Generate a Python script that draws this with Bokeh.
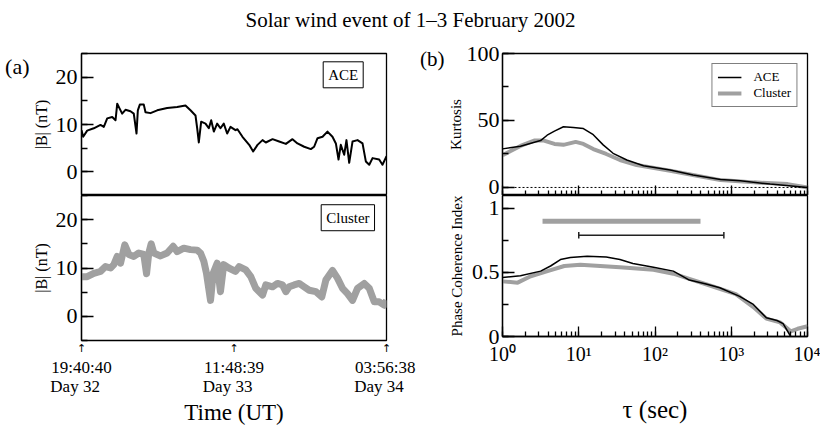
from bokeh.plotting import figure
from bokeh.layouts import column, row
from bokeh.models import (Range1d, SingleIntervalTicker, FixedTicker, LogTicker,
                          Label, Span, LinearAxis)
from bokeh.embed import file_html
from bokeh.resources import INLINE

FONT = "Liberation Serif"
GRAY = "#a0a0a0"

TITLE = "Solar wind event of 1\u20133 February 2002"

# ---- panel (a): |B| time series, hours since 19:40:40 Day 32 ----
ace_t = [0.0, 0.18, 0.60, 1.30, 2.01, 2.36, 2.72, 3.25, 3.60, 3.78, 4.05, 4.30, 4.65,
         5.18, 5.53, 5.82, 5.96, 6.17, 6.59, 6.77, 7.30, 8.01, 9.06, 10.12, 11.00,
         11.53, 12.06, 12.24, 12.41, 12.66, 13.12, 13.47, 13.72, 14.00, 14.35, 14.70,
         15.05, 15.41, 15.76, 16.29, 16.50, 17.03, 17.74, 18.16, 18.62, 19.15, 19.50,
         20.21, 20.91, 21.62, 22.32, 22.85, 23.56, 24.26, 24.61, 24.97, 25.50, 26.02,
         26.55, 26.91, 27.19, 27.43, 27.79, 28.03, 28.32, 28.67, 29.20, 29.73, 30.08,
         30.44, 30.79, 31.49, 31.84, 32.27]
ace_b = [8.8, 7.4, 8.7, 9.2, 9.9, 9.5, 11.3, 11.6, 10.9, 14.4, 13.3, 12.3, 13.1,
         12.8, 12.3, 8.1, 13.0, 14.2, 14.2, 12.6, 12.4, 13.0, 13.5, 13.7, 14.0,
         13.0, 11.9, 9.2, 6.2, 10.6, 10.2, 9.2, 10.9, 8.5, 10.2, 9.2,
         10.2, 8.1, 9.5, 8.8, 9.0, 7.4, 5.7, 4.3, 5.7, 6.7, 6.2,
         6.9, 6.4, 5.9, 6.9, 6.0, 5.3, 4.8, 5.3, 7.1, 7.4, 8.5,
         7.4, 6.0, 2.6, 5.7, 3.6, 6.7, 1.9, 6.4, 6.7, 6.0, 2.2,
         1.5, 2.9, 2.6, 1.5, 3.3]

cl_t = [0.0, 0.60, 1.30, 2.01, 2.54, 3.07, 3.42, 3.78, 4.13, 4.58, 5.01, 5.53, 6.06,
        6.59, 6.88, 7.12, 7.37, 7.65, 8.36, 9.06, 9.70, 10.12, 10.82, 11.53, 12.24,
        12.59, 12.94, 13.22, 13.65, 13.93, 14.35, 14.70, 15.05, 15.58, 16.29, 16.68,
        17.38, 17.91, 18.44, 19.15, 19.50, 20.21, 20.73, 21.26, 21.62, 21.97, 22.50,
        23.03, 23.56, 24.09, 24.79, 25.42, 25.85, 26.55, 27.08, 27.61, 28.14, 28.67,
        29.20, 29.91, 30.44, 30.97, 31.49, 32.02, 32.27]
cl_b = [8.2, 8.2, 8.9, 9.3, 10.3, 10.0, 10.7, 12.4, 11.0, 14.8, 12.8, 12.4, 13.1,
        12.8, 8.8, 13.1, 15.0, 13.1, 12.5, 13.1, 14.5, 13.4, 14.1, 13.8, 13.7,
        13.1, 11.4, 8.9, 3.3, 8.9, 11.0, 5.1, 10.7, 10.0, 9.3, 10.3,
        9.6, 8.2, 5.8, 4.4, 6.5, 6.1, 6.8, 6.5, 5.1, 6.1, 6.5,
        6.8, 6.1, 5.4, 5.1, 4.0, 7.5, 9.5, 7.9, 5.8, 4.7, 3.3,
        5.8, 6.8, 5.8, 3.0, 3.0, 2.3, 3.3]

time_ticks = [0.0, 16.133, 32.266]
time_labels = ["19:40:40\nDay 32\u00a0\u00a0\u00a0",
               "11:48:39\nDay 33\u00a0\u00a0\u00a0",
               "03:56:38\nDay 34\u00a0\u00a0\u00a0"]

# ---- panel (b): kurtosis and phase coherence index vs tau ----
tau_k_ace = [1, 1.72, 3.16, 3.85, 4.8, 6.3, 8.5, 11.5, 15.5, 20.9, 28.2, 42.7, 70.8,
             158, 316, 724, 1318, 3236, 10000]
kurt_ace = [28.8, 30.8, 35, 39, 42, 45.3, 44.8, 44, 39.4, 31.8, 25.5, 20.5, 16.2,
            13, 9.3, 6, 5, 2.5, 0]
tau_k_cl = [1, 1.26, 1.72, 2.6, 3.5, 4.8, 6.3, 9.1, 11.5, 15.5, 22.9, 34.7, 57.5,
            158, 355, 724, 1995, 5495, 10000]
kurt_cl = [24, 27, 31, 35, 35, 32.5, 31.8, 34, 32.5, 28.7, 25, 20.5, 16.7,
           12.5, 8.8, 5.5, 3.8, 2.5, 0]

tau_p_ace = [1, 1.72, 3.16, 4.27, 5.75, 7.76, 12.9, 22.9, 34.7, 51.3, 95.5, 174, 282,
             468, 708, 1288, 1950, 2884, 3981, 4786, 6026]
pci_ace = [0.46, 0.474, 0.51, 0.55, 0.60, 0.617, 0.627, 0.62, 0.60, 0.57, 0.54, 0.51,
           0.44, 0.41, 0.38, 0.313, 0.25, 0.146, 0.125, 0.10, 0.0]
tau_p_cl = [1, 1.58, 2.34, 3.89, 6.46, 10.5, 19.1, 34.7, 95.5, 174, 282, 575, 1148,
            1950, 2884, 4365, 6026, 7413, 10000]
pci_cl = [0.43, 0.42, 0.47, 0.51, 0.55, 0.56, 0.55, 0.54, 0.52, 0.49, 0.45, 0.39,
          0.33, 0.23, 0.14, 0.11, 0.04, 0.06, 0.08]

# ranges of tau used for the fits (horizontal bars)
cl_bar_tau = [3.35, 395]
cl_bar_pci = 0.9
ace_bar_tau = [10, 800]
ace_bar_pci = 0.79

log_labels = {1: "10\u2070", 10: "10\u00b9", 100: "10\u00b2", 1000: "10\u00b3",
              10000: "10\u2074"}

# panel tags placed as tick labels of outer, tick-less axes
tag_a_level = 22.3
tag_b_level = 96.0


def make_fig(width, height, x_range, y_range, left, right, top, bottom, **kw):
    p = figure(width=width, height=height, x_range=x_range, y_range=y_range,
               toolbar_location=None, output_backend="svg",
               min_border_left=left, min_border_right=right,
               min_border_top=top, min_border_bottom=bottom, **kw)
    p.grid.visible = False
    p.outline_line_color = "black"
    p.outline_line_width = 1.3
    p.outline_line_alpha = 1.0
    return p


def style_axis(ax, label, label_size, label_standoff, tick_size="22px",
               tick_standoff=5, tick_in=12, minor_in=6):
    if label is not None:
        ax.axis_label = label
        ax.axis_label_text_font = FONT
        ax.axis_label_text_font_size = label_size
        ax.axis_label_text_font_style = "normal"
        ax.axis_label_text_color = "black"
        ax.axis_label_standoff = label_standoff
    ax.major_label_text_font = FONT
    ax.major_label_text_font_size = tick_size
    ax.major_label_text_color = "black"
    ax.major_label_standoff = tick_standoff
    ax.major_tick_in = tick_in
    ax.major_tick_out = 0
    ax.minor_tick_in = minor_in
    ax.minor_tick_out = 0
    ax.axis_line_color = "black"
    ax.axis_line_width = 1.3
    ax.major_tick_line_color = "black"
    ax.major_tick_line_width = 1.3
    ax.minor_tick_line_color = "black"
    ax.minor_tick_line_width = 1.3


def tag_axis(levels, texts, size="22px", font=FONT, standoff=0):
    ax = LinearAxis(ticker=FixedTicker(ticks=levels, minor_ticks=[]),
                    major_label_overrides=dict(zip(levels, texts)))
    ax.major_label_text_font = font
    ax.major_label_text_font_size = size
    ax.major_label_text_color = "black"
    ax.major_label_standoff = standoff
    ax.major_tick_in = 0
    ax.major_tick_out = 0
    ax.minor_tick_in = 0
    ax.minor_tick_out = 0
    ax.major_tick_line_color = None
    ax.minor_tick_line_color = None
    ax.axis_line_color = None
    return ax


def text_strip(width, height, text, size, left=0, right=0):
    s = figure(width=width, height=height, x_range=Range1d(0, 1), y_range=Range1d(0, 1),
               toolbar_location=None, output_backend="svg", min_border=0,
               min_border_left=left, min_border_right=right)
    s.axis.visible = False
    s.grid.visible = False
    s.outline_line_color = None
    s.add_layout(Label(x=0.5, y=0.5, text=text, text_font=FONT, text_color="black",
                       text_font_size=size, text_align="center",
                       text_baseline="middle"))
    return s


# ---------- title ----------
pt = text_strip(820, 38, TITLE, "21px")

# ---------- (a) top: ACE ----------
a1 = make_fig(416, 157, Range1d(0, 32.266), Range1d(-5, 25), 81, 30, 15, 0)
a1.xaxis.visible = False
a1.yaxis.ticker = SingleIntervalTicker(interval=10, num_minor_ticks=2)
style_axis(a1.yaxis[0], "|B| (nT)", "16px", 3, tick_standoff=4)
a1.add_layout(tag_axis([tag_a_level], ["(a)"]), "left")
a1.line(ace_t, ace_b, line_color="black", line_width=2, line_join="round")
a1.add_layout(Label(x=29.8, y=20.5, text="ACE", text_font=FONT, text_font_size="15px",
                    text_color="black", text_align="right", text_baseline="middle",
                    padding=5, border_line_color="black", border_line_width=1,
                    background_fill_color="white"))

# ---------- (a) bottom: Cluster ----------
a2 = make_fig(416, 204, Range1d(0, 32.266), Range1d(-5, 25), 81, 30, 0, 59,
              x_axis_location=None)
a2.yaxis.ticker = SingleIntervalTicker(interval=10, num_minor_ticks=2)
style_axis(a2.yaxis[0], "|B| (nT)", "16px", 3, tick_standoff=4)
# arrows marking the labelled times
arrow_ax = tag_axis(time_ticks, ["\u2191"] * len(time_ticks), size="11px",
                    font="DejaVu Sans", standoff=1)
a2.add_layout(arrow_ax, "below")
time_ax = tag_axis(time_ticks, time_labels, size="17px", standoff=0)
time_ax.major_label_text_line_height = 1.0
a2.add_layout(time_ax, "below")
a2.line(cl_t, cl_b, line_color=GRAY, line_width=7, line_join="round")
a2.add_layout(Label(x=31.0, y=20.4, text="Cluster", text_font=FONT,
                    text_font_size="15px", text_color="black", text_align="right",
                    text_baseline="middle", padding=5, border_line_color="black",
                    border_line_width=1, background_fill_color="white"))

# x-axis title of panel (a), centred under its frame
pa_xlabel = text_strip(416, 26, "Time (UT)", "23px", left=81, right=30)

# ---------- (b) top: kurtosis ----------
b1 = make_fig(404, 157, Range1d(1, 1e4), Range1d(-6, 100), 86, 13, 15, 0,
              x_axis_type="log")
b1.yaxis.ticker = SingleIntervalTicker(interval=50, num_minor_ticks=2)
style_axis(b1.yaxis[0], "Kurtosis", "15px", 0, tick_standoff=3)
b1.add_layout(tag_axis([tag_b_level], ["(b)"], size="21px"), "left")
b1.xaxis.ticker = LogTicker(num_minor_ticks=10)
style_axis(b1.xaxis[0], None, None, 0, tick_size="1px", tick_standoff=0,
           tick_in=10, minor_in=5)
b1.xaxis.major_label_overrides = {k: "" for k in log_labels}
b1.xaxis.major_label_text_alpha = 0.0
b1.add_layout(Span(location=0, dimension="width", line_color="black",
                   line_width=1, line_dash="2 2"))
b1.line(tau_k_cl, kurt_cl, line_color=GRAY, line_width=4, legend_label="Cluster")
b1.line(tau_k_ace, kurt_ace, line_color="black", line_width=1.5, legend_label="ACE")
b1.legend.location = "top_right"
b1.legend.margin = 10
b1.legend.padding = 5
b1.legend.spacing = 0
b1.legend.glyph_width = 24
b1.legend.glyph_height = 16
b1.legend.label_standoff = 12
b1.legend.label_text_font = FONT
b1.legend.label_text_color = "black"
b1.legend.label_text_font_size = "13px"
b1.legend.border_line_color = "black"
b1.legend.border_line_width = 1
b1.legend.background_fill_alpha = 1
items = b1.legend.items
b1.legend.items = [items[1], items[0]]

# ---------- (b) bottom: phase coherence index ----------
b2 = make_fig(404, 230, Range1d(1, 1e4), Range1d(0, 1.1), 86, 13, 0, 85,
              x_axis_type="log")
b2.yaxis.ticker = SingleIntervalTicker(interval=0.5, num_minor_ticks=2)
style_axis(b2.yaxis[0], "Phase Coherence Index", "15px", 4, tick_standoff=3)
b2.xaxis.ticker = LogTicker(num_minor_ticks=10)
b2.xaxis.major_label_overrides = log_labels
style_axis(b2.xaxis[0], "\u03c4 (sec)", "25px", 28, tick_size="20px", tick_standoff=6,
           tick_in=10, minor_in=5)
b2.line(tau_p_cl, pci_cl, line_color=GRAY, line_width=4)
b2.line(tau_p_ace, pci_ace, line_color="black", line_width=1.5)
b2.segment(x0=[cl_bar_tau[0]], x1=[cl_bar_tau[1]], y0=[cl_bar_pci], y1=[cl_bar_pci],
           line_color=GRAY, line_width=5)
b2.segment(x0=[ace_bar_tau[0]], x1=[ace_bar_tau[1]], y0=[ace_bar_pci],
           y1=[ace_bar_pci], line_color="#222222", line_width=1.5)
b2.segment(x0=ace_bar_tau, x1=ace_bar_tau,
           y0=[ace_bar_pci - 0.025] * 2, y1=[ace_bar_pci + 0.025] * 2,
           line_color="#222222", line_width=1.5)

layout = column(pt, row(column(a1, a2, pa_xlabel), column(b1, b2)))

open("out.html", "w").write(file_html(layout, INLINE, title="Solar wind event"))
